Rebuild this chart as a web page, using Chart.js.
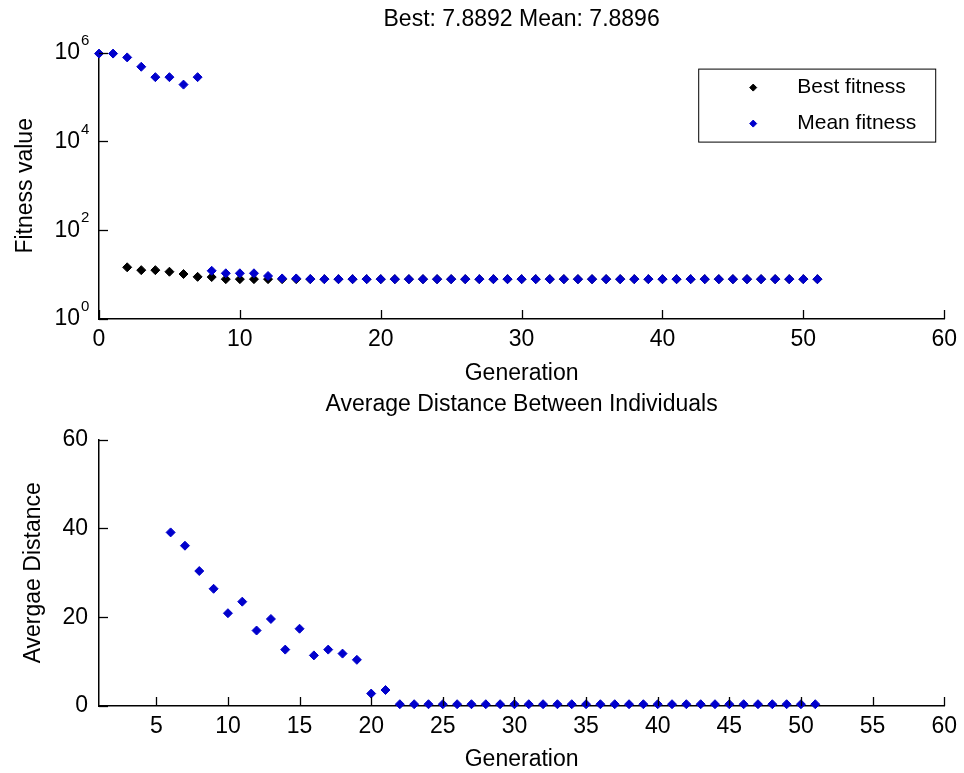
<!DOCTYPE html>
<html>
<head>
<meta charset="utf-8">
<script src="https://cdn.jsdelivr.net/npm/chart.js@4"></script>
<style>
  body { margin: 0; background: #fff; }
  #wrap { position: relative; width: 964px; height: 773px; }
  canvas { position: absolute; left: 0; }
  #fitness { top: 0; }
  #distance { top: 380px; }
</style>
</head>
<body>
<div id="wrap">
  <canvas id="fitness" width="964" height="400"></canvas>
  <canvas id="distance" width="964" height="393"></canvas>
</div>
<script>
// generation index (x) and the values
const generations = [0,1,2,3,4,5,6,7,8,9,10,11,12,13,14,15,16,17,18,19,20,21,22,23,24,25,
  26,27,28,29,30,31,32,33,34,35,36,37,38,39,40,41,42,43,44,45,46,47,48,49,50,51];

const bestFitness = [null,null,14.6,12.6,12.6,11.6,10.3,8.9,8.8,7.9,7.9,7.9,7.9,7.9,7.9,7.9,
  7.9,7.9,7.9,7.9,7.9,7.9,7.9,7.9,7.9,7.9,7.9,7.9,7.9,7.9,7.9,7.9,7.9,7.9,7.9,7.9,
  7.9,7.9,7.9,7.9,7.9,7.9,7.9,7.9,7.9,7.9,7.9,7.9,7.9,7.9,7.9,7.8892];

const meanFitness = [950000,950000,780000,480000,280000,280000,190000,280000,12.2,10.7,10.7,10.7,9.3,8.2,8.2,7.95,
  7.9,7.9,7.9,7.9,7.9,7.9,7.9,7.9,7.9,7.9,7.9,7.9,7.9,7.9,7.9,7.9,7.9,7.9,7.9,7.9,
  7.9,7.9,7.9,7.9,7.9,7.9,7.9,7.9,7.9,7.9,7.9,7.9,7.9,7.9,7.9,7.8896];

const avgDistance = [null,null,null,null,null,null,39.1,36.1,30.4,26.4,20.9,23.5,17.0,19.6,12.7,17.4,
  11.4,12.7,11.8,10.4,2.8,3.6,0.4,0.4,0.4,0.4,0.4,0.4,0.4,0.4,0.4,0.4,0.4,0.4,0.4,0.4,
  0.4,0.4,0.4,0.4,0.4,0.4,0.4,0.4,0.4,0.4,0.4,0.4,0.4,0.4,0.4,0.4];

const fitnessTicks = [1, 100, 10000, 1000000];
const fitnessExponents = ['0', '2', '4', '6'];
const topGenTicks = [0, 10, 20, 30, 40, 50, 60];
const bottomGenTicks = [5, 10, 15, 20, 25, 30, 35, 40, 45, 50, 55, 60];
const distanceTicks = [0, 20, 40, 60];

Chart.defaults.font.family = '"Liberation Sans", Arial, sans-serif';
Chart.defaults.font.size = 23;
Chart.defaults.color = '#000';

function toPoints(ys) {
    return generations.map((g, i) => ({ x: g, y: ys[i] })).filter(p => p.y !== null);
}

// matlab style ticks pointing into the plot
const inwardTicks = {
    id: 'inwardTicks',
    afterDraw(chart) {
        const ctx = chart.ctx, area = chart.chartArea;
        const xs = chart.scales.x, ys = chart.scales.y;
        ctx.save();
        ctx.strokeStyle = '#000';
        ctx.lineWidth = 1.3;
        xs.ticks.forEach(t => {
            const px = Math.round(xs.getPixelForValue(t.value)) + 0.5;
            ctx.beginPath();
            ctx.moveTo(px, area.bottom);
            ctx.lineTo(px, area.bottom - 9);
            ctx.stroke();
        });
        ys.ticks.forEach(t => {
            const py = Math.round(ys.getPixelForValue(t.value)) + 0.5;
            ctx.beginPath();
            ctx.moveTo(area.left, py);
            ctx.lineTo(area.left + 9, py);
            ctx.stroke();
        });
        ctx.restore();
    }
};

// raised exponents next to the "10" labels of the log axis
const logExponents = {
    id: 'logExponents',
    afterDraw(chart) {
        const ctx = chart.ctx, ys = chart.scales.y;
        ctx.save();
        ctx.font = '15px "Liberation Sans", Arial, sans-serif';
        ctx.fillStyle = '#000';
        ctx.textAlign = 'left';
        ctx.textBaseline = 'middle';
        ys.ticks.forEach(t => {
            const i = fitnessTicks.indexOf(t.value);
            if (i < 0) return;
            ctx.fillText(fitnessExponents[i], ys.right - 18, ys.getPixelForValue(t.value) - 12);
        });
        ctx.restore();
    }
};

// boxed legend in the upper right corner of the plot
const boxLegend = {
    id: 'boxLegend',
    afterDraw(chart) {
        const ctx = chart.ctx, area = chart.chartArea;
        const left = area.right - 246, top = area.top + 16;
        ctx.save();
        ctx.fillStyle = '#fff';
        ctx.fillRect(left, top, 237, 73);
        ctx.strokeStyle = '#000';
        ctx.lineWidth = 1;
        ctx.strokeRect(left + 0.5, top + 0.5, 237, 73);
        ctx.font = '21px "Liberation Sans", Arial, sans-serif';
        ctx.textBaseline = 'middle';
        chart.data.datasets.forEach((ds, i) => {
            const y = top + 19 + i * 36;
            ctx.fillStyle = ds.pointBackgroundColor;
            ctx.strokeStyle = ds.pointBorderColor;
            Chart.helpers.drawPoint(ctx, { pointStyle: 'rectRot', radius: 3.5, borderWidth: 1, rotation: 0 }, left + 55, y);
            ctx.fillStyle = '#000';
            ctx.fillText(ds.label, left + 99, y);
        });
        ctx.restore();
    }
};

function fixedTicks(values) {
    return scale => { scale.ticks = values.map(v => ({ value: v })); };
}

const axisGrid = { display: true, drawOnChartArea: false, drawTicks: false };
const axisBorder = { display: true, color: '#000', width: 1.5 };

new Chart(document.getElementById('fitness'), {
    type: 'scatter',
    data: {
        datasets: [{
            label: 'Best fitness',
            data: toPoints(bestFitness),
            pointStyle: 'rectRot',
            pointRadius: 4.5,
            pointBackgroundColor: '#000000',
            pointBorderColor: '#000000',
            pointBorderWidth: 1,
            order: 1,
            clip: false
        }, {
            label: 'Mean fitness',
            data: toPoints(meanFitness),
            pointStyle: 'rectRot',
            pointRadius: 4.5,
            pointBackgroundColor: '#0000cc',
            pointBorderColor: '#0000cc',
            pointBorderWidth: 1,
            order: 0,
            clip: false
        }]
    },
    options: {
        responsive: false,
        animation: false,
        layout: { padding: { left: 0, right: 15, top: 0, bottom: 0 } },
        plugins: {
            legend: { display: false },
            tooltip: { enabled: false },
            title: {
                display: true,
                text: 'Best: 7.8892 Mean: 7.8896',
                fullSize: false,
                font: { size: 23, weight: 'normal' },
                padding: { top: 6, bottom: 19 }
            }
        },
        scales: {
            x: {
                type: 'linear',
                min: 0,
                max: 60,
                afterBuildTicks: fixedTicks(topGenTicks),
                afterFit: scale => { scale.height = 81; },
                grid: axisGrid,
                border: axisBorder,
                ticks: { padding: 7, maxRotation: 0, autoSkip: false },
                title: { display: true, text: 'Generation', padding: { top: 0, bottom: 13 } }
            },
            y: {
                type: 'logarithmic',
                min: 1,
                max: 1000000,
                afterBuildTicks: fixedTicks(fitnessTicks),
                afterFit: scale => { scale.width = 99; },
                grid: axisGrid,
                border: axisBorder,
                ticks: {
                    padding: 19,
                    autoSkip: false,
                    callback: () => '10'
                },
                title: { display: true, text: 'Fitness value', padding: { top: 12, bottom: 0 } }
            }
        }
    },
    plugins: [inwardTicks, logExponents, boxLegend]
});

new Chart(document.getElementById('distance'), {
    type: 'scatter',
    data: {
        datasets: [{
            label: 'Average distance',
            data: toPoints(avgDistance),
            pointStyle: 'rectRot',
            pointRadius: 4.5,
            pointBackgroundColor: '#0000cc',
            pointBorderColor: '#0000cc',
            pointBorderWidth: 1,
            clip: false
        }]
    },
    options: {
        responsive: false,
        animation: false,
        layout: { padding: { left: 0, right: 18, top: 0, bottom: 0 } },
        plugins: {
            legend: { display: false },
            tooltip: { enabled: false },
            title: {
                display: true,
                text: 'Average Distance Between Individuals',
                fullSize: false,
                font: { size: 23, weight: 'normal' },
                padding: { top: 11, bottom: 21 }
            }
        },
        scales: {
            x: {
                type: 'linear',
                min: 1,
                max: 60,
                afterBuildTicks: fixedTicks(bottomGenTicks),
                afterFit: scale => { scale.height = 67; },
                grid: axisGrid,
                border: axisBorder,
                ticks: { padding: 7, maxRotation: 0, autoSkip: false },
                title: { display: true, text: 'Generation', padding: { top: 0, bottom: 0 } }
            },
            y: {
                type: 'linear',
                min: 0,
                max: 60,
                afterBuildTicks: fixedTicks(distanceTicks),
                afterFit: scale => { scale.width = 99; },
                grid: axisGrid,
                border: axisBorder,
                ticks: { padding: 11, autoSkip: false },
                title: { display: true, text: 'Avergae Distance', padding: { top: 20, bottom: 0 } }
            }
        }
    },
    plugins: [inwardTicks]
});
</script>
</body>
</html>
